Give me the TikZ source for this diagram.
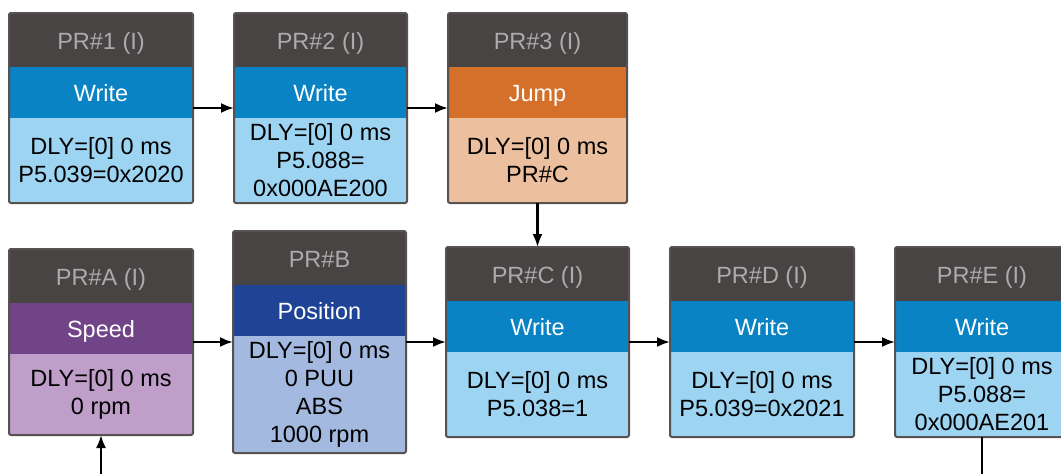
\documentclass[tikz,border=0pt]{standalone}
\usepackage{fontspec}
\setmainfont{Liberation Sans}
\usetikzlibrary{arrows.meta,calc}
\definecolor{hdgray}{HTML}{484443}
\definecolor{rimgray}{HTML}{57524F}
\definecolor{hdtext}{HTML}{ABABAB}
\definecolor{wrD}{HTML}{0A83C4}
\definecolor{wrL}{HTML}{9DD4F2}
\definecolor{jpD}{HTML}{D4702A}
\definecolor{jpL}{HTML}{ECBF9E}
\definecolor{spD}{HTML}{714487}
\definecolor{spL}{HTML}{C09ECA}
\definecolor{poD}{HTML}{1F4495}
\definecolor{poL}{HTML}{A4B9DF}
\begin{document}
\begin{tikzpicture}[x=1pt, y=-1pt, font=\fontsize{23.5}{28}\selectfont,
		cell/.style={inner sep=0pt, outer sep=0pt},
		head/.style={cell, fill=hdgray, text=hdtext, minimum height=54pt, text height=18pt, text depth=0pt},
		band/.style={cell, text=white, minimum height=51pt, text height=17pt, text depth=0pt},
		frame/.style={draw=rimgray, line width=2pt, rounded corners=2pt},
		arr/.style={-{Latex[length=13pt,width=10pt]}, line width=2.2pt}]
		\useasboundingbox (0,0) rectangle (1061,474);
		\clip (0,0) rectangle (1061,474);
		% блоки PR
		\foreach \n/\x/\y/\w/\h/\ttl/\typ/\hd/\bd/\txt in {
			pr1/9/13/184/190/{PR\#1 (I)}/Write/wrD/wrL/{DLY=[0] 0 ms\\P5.039=0x2020},
			pr2/234/13/173/190/{PR\#2 (I)}/Write/wrD/wrL/{DLY=[0] 0 ms\\P5.088=\\0x000AE200},
			pr3/448/13/179/190/{PR\#3 (I)}/Jump/jpD/jpL/{DLY=[0] 0 ms\\PR\#C},
			prA/9/249/184/186/{PR\#A (I)}/Speed/spD/spL/{DLY=[0] 0 ms\\0 rpm},
			prB/233/231/173/222/{PR\#B}/Position/poD/poL/{DLY=[0] 0 ms\\0 PUU\\ABS\\1000 rpm},
			prC/446/247/183/190/{PR\#C (I)}/Write/wrD/wrL/{DLY=[0] 0 ms\\P5.038=1},
			prD/670/247/184/190/{PR\#D (I)}/Write/wrD/wrL/{DLY=[0] 0 ms\\P5.039=0x2021},
			prE/895/247/174/190/{PR\#E (I)}/Write/wrD/wrL/{DLY=[0] 0 ms\\P5.088=\\0x000AE201}}{
			\node[cell, fill=\bd, minimum width=\w pt, minimum height=\h pt, anchor=north west] (\n) at (\x,\y) {};
			\node[head, minimum width=\w pt, anchor=north] (\n-h) at (\n.north) {\ttl};
			\node[band, fill=\hd, minimum width=\w pt, anchor=north] (\n-b) at (\n-h.south) {\typ};
			\node[align=center] (\n-t) at ($(\n-b.south)!.5!(\n.south)$) {\txt};
			\draw[frame] (\n.north west) rectangle (\n.south east);
		}
		% свободные концы
		\coordinate (inA) at (101,474);
		\coordinate (outE) at (982,474);
		% связи
		\draw[arr] (pr1) -- (pr2);
		\draw[arr] (pr2) -- (pr3);
		\draw[arr] (pr3) -- (prC);
		\draw[arr] (prA) -- (prB);
		\draw[arr] (prB) -- (prC);
		\draw[arr] (prC) -- (prD);
		\draw[arr] (prD) -- (prE);
		\draw[arr] (inA) -- (prA);
		\draw[line width=2.2pt] (prE) -- (outE);
	\end{tikzpicture}
\end{document}
